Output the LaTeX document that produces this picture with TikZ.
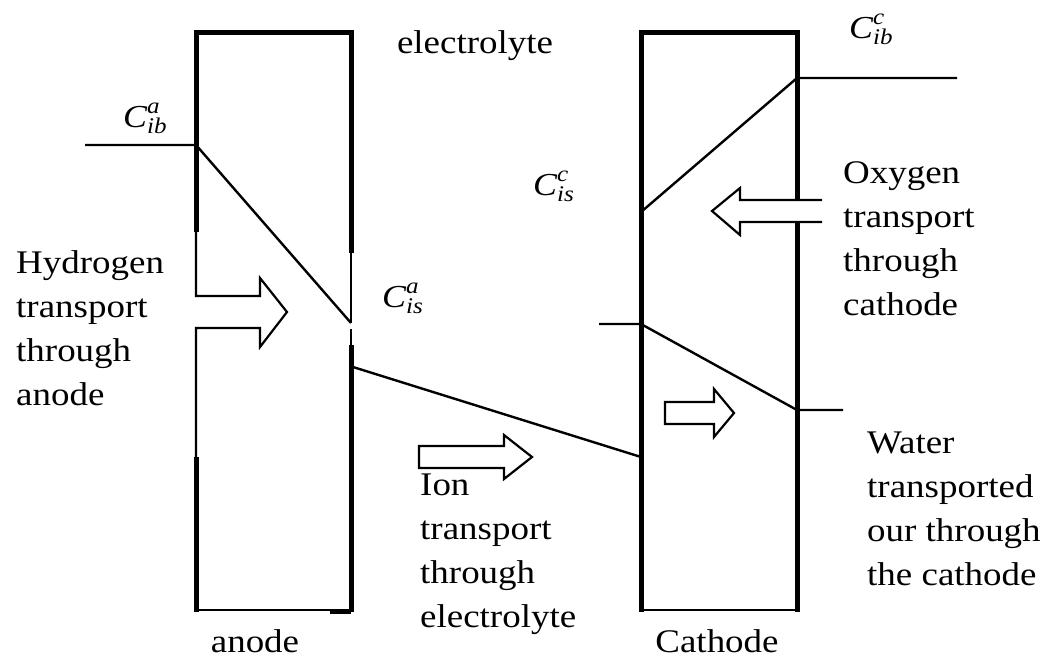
\documentclass[tikz,border=0pt]{standalone}
\usepackage{amsmath}
\usepackage{fontspec}
\setmainfont{Liberation Serif}[FakeStretch=1.12]
\tikzset{
  wall/.style={line width=5pt, line join=miter},
  thin wall/.style={line width=2pt},
  profile/.style={line width=2.4pt},
  flow/.style={line width=2.2pt, line join=miter},
  txt/.style={inner sep=0pt, anchor=base west, align=left,
    font=\fontsize{33}{44}\selectfont},
  conc/.style={inner sep=0pt, anchor=base west,
    font=\fontsize{32}{44}\selectfont},
}
\newcommand{\concsym}[2]{$\textit{C}^{\text{\itshape #1}}_{\text{\itshape #2}}$}

\begin{document}
\begin{tikzpicture}[x=1pt, y=-1pt]
\useasboundingbox (0,0) rectangle (1046,662);

% anode
\draw[wall] (196,232) -- (196,32) -- (351,32) -- (351,253);
\draw[wall] (196,457) -- (196,612);
\draw[wall] (351,345) -- (351,612);
\draw[wall] (330,611) -- (351,611);
\draw[thin wall] (196,610) -- (351,610);
\draw[thin wall] (351,253) -- (351,323);
\draw[thin wall] (351,329) -- (351,345);
\draw[flow] (196,232) -- (196,296) -- (260,296) -- (260,278) -- (287,312)
  -- (260,347) -- (260,328) -- (196,328) -- (196,457);

% cathode
\draw[wall] (797,200) -- (797,32) -- (641,32) -- (641,612);
\draw[wall] (797,222) -- (797,612);
\draw[thin wall] (641,610) -- (797,610);
\draw[flow] (822,200) -- (740,200) -- (740,188) -- (712,211)
  -- (740,235) -- (740,222) -- (822,222);

% concentration profiles
\coordinate (ib-a-out) at (85,145);
\coordinate (ib-a) at (196,145);
\coordinate (is-a) at (351,323);
\coordinate (el-a) at (353,367);
\coordinate (el-c) at (641,457);
\coordinate (is-c) at (641,212);
\coordinate (ib-c) at (797,78);
\coordinate (ib-c-out) at (957,78);
\coordinate (w-in-out) at (599,324);
\coordinate (w-in) at (641,324);
\coordinate (w-out) at (797,410);
\coordinate (w-out-end) at (843,410);
\draw[profile] (ib-a-out) -- (ib-a) -- (is-a);
\draw[profile] (el-a) -- (el-c);
\draw[profile] (is-c) -- (ib-c) -- (ib-c-out);
\draw[profile] (w-in-out) -- (w-in) -- (w-out) -- (w-out-end);

% closed arrows
\foreach \x/\y/\len/\hl/\hh in {419/457/113/28/22, 665/413/69/20/24}
  \draw[flow] (\x,\y-11) -- (\x+\len-\hl,\y-11) -- (\x+\len-\hl,\y-\hh)
    -- (\x+\len,\y) -- (\x+\len-\hl,\y+\hh) -- (\x+\len-\hl,\y+11)
    -- (\x,\y+11) -- cycle;

% labels
\node[conc] (c-ib-a) at (123,127) {\concsym{a}{ib}};
\node[conc] (c-is-a) at (382,307) {\concsym{a}{is}};
\node[conc] (c-is-c) at (533,195) {\concsym{c}{is}};
\node[conc] (c-ib-c) at (849,38) {\concsym{c}{ib}};

% multi-line texts sit on their last line
\node[txt] (hydrogen) at (16,405) {Hydrogen\\transport\\through\\anode};
\node[txt] (oxygen) at (843,315) {Oxygen\\transport\\through\\cathode};
\node[txt] (ion) at (420,627) {Ion\\transport\\through\\electrolyte};
\node[txt] (water) at (867,585) {Water\\transported\\our through\\the cathode};
\node[txt, anchor=base] (electrolyte) at (475,53) {electrolyte};
\node[txt, anchor=base] (anode) at (255,652) {anode};
\node[txt, anchor=base] (cathode) at (717,652) {Cathode};
\end{tikzpicture}
\end{document}
